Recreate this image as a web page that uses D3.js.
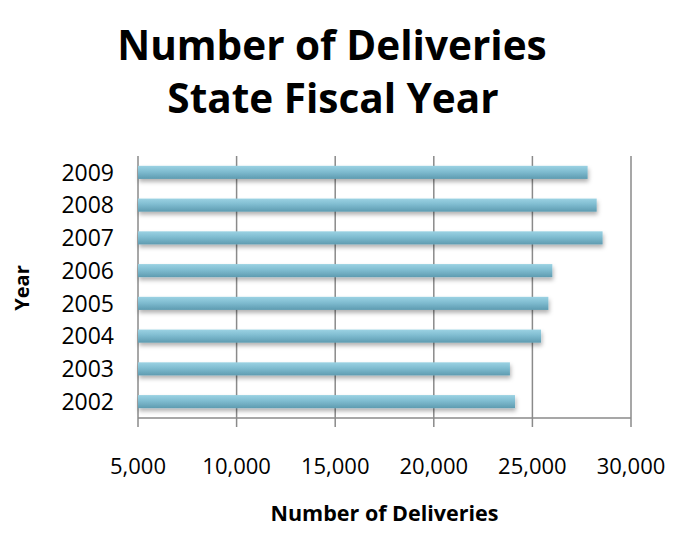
<!DOCTYPE html>
<html>
<head>
<meta charset="utf-8">
<script src="https://cdn.jsdelivr.net/npm/d3@7"></script>
<style>
  body { margin: 0; background: #fff; }
  svg { display: block; }
</style>
</head>
<body>
<div id="chart"></div>
<script>
// values
var years = ["2009", "2008", "2007", "2006", "2005", "2004", "2003", "2002"];
var deliveries = [27800, 28260, 28560, 26010, 25810, 25440, 23860, 24120];
var xTicks = [5000, 10000, 15000, 20000, 25000, 30000];

var width = 694, height = 559;
var margin = {top: 156, right: 63, bottom: 141, left: 138};
var font = "'Open Sans', 'Noto Sans', sans-serif";

var svg = d3.select("#chart").append("svg")
  .attr("width", width)
  .attr("height", height);

var defs = svg.append("defs");

var grad = defs.append("linearGradient")
  .attr("id", "barFill")
  .attr("x1", 0).attr("y1", 0).attr("x2", 0).attr("y2", 1);
grad.append("stop").attr("offset", "0%").attr("stop-color", "#9bd2e3");
grad.append("stop").attr("offset", "45%").attr("stop-color", "#7fbcd0");
grad.append("stop").attr("offset", "100%").attr("stop-color", "#5e9bb0");

var shadow = defs.append("filter")
  .attr("id", "barShadow")
  .attr("x", "-5%").attr("y", "-50%")
  .attr("width", "110%").attr("height", "220%");
shadow.append("feDropShadow")
  .attr("dx", 1).attr("dy", 3)
  .attr("stdDeviation", 2)
  .attr("flood-color", "#000")
  .attr("flood-opacity", 0.3);

var x = d3.scaleLinear()
  .domain([5000, 30000])
  .range([margin.left, width - margin.right]);

var y = d3.scaleBand()
  .domain(years)
  .range([margin.top, height - margin.bottom])
  .paddingInner(0.6)
  .paddingOuter(0.3);

var plotBottom = height - margin.bottom;

// vertical gridlines and bottom ticks
svg.append("g")
  .selectAll("line")
  .data(xTicks)
  .enter().append("line")
    .attr("x1", function(d) { return x(d); })
    .attr("x2", function(d) { return x(d); })
    .attr("y1", margin.top)
    .attr("y2", plotBottom + 9)
    .style("stroke", "#8a8a8a")
    .style("stroke-width", 1.5);

// bottom axis line
svg.append("line")
  .attr("x1", margin.left)
  .attr("x2", x(30000))
  .attr("y1", plotBottom)
  .attr("y2", plotBottom)
  .style("stroke", "#8a8a8a")
  .style("stroke-width", 1.5);

// bars
svg.append("g")
  .selectAll("rect")
  .data(years)
  .enter().append("rect")
    .attr("x", x(5000))
    .attr("y", function(d) { return y(d); })
    .attr("width", function(d, i) { return x(deliveries[i]) - x(5000); })
    .attr("height", y.bandwidth())
    .style("fill", "url(#barFill)")
    .attr("filter", "url(#barShadow)");

// x tick labels
svg.append("g")
  .selectAll("text")
  .data(xTicks)
  .enter().append("text")
    .attr("x", function(d) { return x(d); })
    .attr("y", 474)
    .attr("text-anchor", "middle")
    .style("font-family", font)
    .style("font-size", "22px")
    .style("fill", "#000")
    .text(d3.format(","));

// y category labels
svg.append("g")
  .selectAll("text")
  .data(years)
  .enter().append("text")
    .attr("x", 114)
    .attr("y", function(d) { return y(d) + y.bandwidth() / 2; })
    .attr("dy", "0.36em")
    .attr("text-anchor", "end")
    .style("font-family", font)
    .style("font-size", "23px")
    .style("fill", "#000")
    .text(function(d) { return d; });

// axis titles
svg.append("text")
  .attr("x", (x(5000) + x(30000)) / 2)
  .attr("y", 521)
  .attr("text-anchor", "middle")
  .style("font-family", font)
  .style("font-weight", "bold")
  .style("font-size", "21.5px")
  .text("Number of Deliveries");

svg.append("text")
  .attr("transform", "translate(29,288) rotate(-90)")
  .attr("text-anchor", "middle")
  .style("font-family", font)
  .style("font-weight", "bold")
  .style("font-size", "20px")
  .text("Year");

// chart title
var title = svg.append("text")
  .attr("text-anchor", "middle")
  .style("font-family", font)
  .style("font-weight", "bold")
  .style("font-size", "40.5px");
title.append("tspan").attr("x", 332).attr("y", 60).text("Number of Deliveries");
title.append("tspan").attr("x", 333).attr("y", 113).text("State Fiscal Year");
</script>
</body>
</html>
